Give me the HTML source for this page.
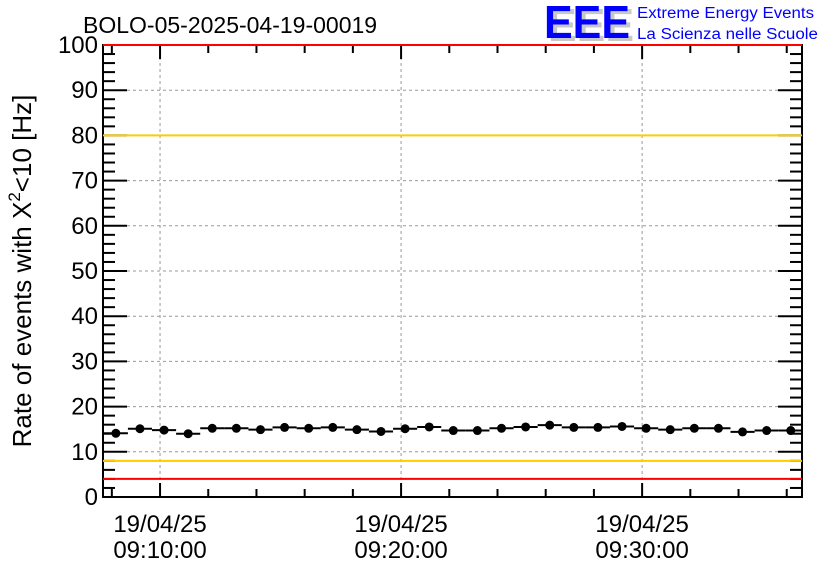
<!DOCTYPE html>
<html><head><meta charset="utf-8"><style>
html,body{margin:0;padding:0;background:#fff;}
svg{display:block;font-family:"Liberation Sans",sans-serif;}
</style></head><body>
<svg id="chart" width="836" height="572" viewBox="0 0 836 572" xmlns="http://www.w3.org/2000/svg">
<rect width="836" height="572" fill="#fff"/>
<text x="83" y="33" font-size="23" fill="#000">BOLO-05-2025-04-19-00019</text>
<g>
<text x="548" y="41" font-size="46" font-weight="bold" fill="#c8c8c8" textLength="86" lengthAdjust="spacingAndGlyphs">EEE</text>
<text x="544" y="38" font-size="46" font-weight="bold" fill="#0000ff" textLength="86" lengthAdjust="spacingAndGlyphs">EEE</text>
<text x="637" y="18" font-size="15.5" fill="#0000ff" textLength="177" lengthAdjust="spacingAndGlyphs">Extreme Energy Events</text>
<text x="637" y="39" font-size="15.5" fill="#0000ff" textLength="181" lengthAdjust="spacingAndGlyphs">La Scienza nelle Scuole</text>
</g>
<g id="grid"></g>
<g id="marks"></g>
<g id="axes"></g>
<g id="lines"></g>
<text transform="translate(31,271) rotate(-90)" text-anchor="middle" font-size="26" fill="#000">Rate of events with X<tspan dy="-11" font-size="17">2</tspan><tspan dy="11">&lt;10 [Hz]</tspan></text>
</svg>
<script>
const times = [490,550,610,670,730,790,850,910,970,1030,1090,1150,1210,1270,1330,1390,1450,1510,1570,1630,1690,1750,1810,1870,1930,1990,2050,2110,2170];
const rates = [14.1,15.1,14.8,14.0,15.2,15.2,14.9,15.4,15.2,15.4,14.9,14.5,15.1,15.5,14.7,14.7,15.2,15.5,15.9,15.4,15.4,15.6,15.2,14.9,15.2,15.2,14.4,14.7,14.7];
const yTicks = [0,10,20,30,40,50,60,70,80,90,100];
const xMajor = [600,1200,1800];
const xLabels = ["09:10:00","09:20:00","09:30:00"];
const xDate = "19/04/25";
const yellowLevels = [8,80];
const redLevels = [4,100];
const binWidth = 60;

const X0=103,X1=802,Y0=497,Y1=45,TMIN=458,TMAX=2198;
const xs=t=>X0+(t-TMIN)/(TMAX-TMIN)*(X1-X0);
const ys=v=>Y0-(v/100)*(Y0-Y1);
const NS="http://www.w3.org/2000/svg";
function mk(tag,attrs,parent){const e=document.createElementNS(NS,tag);for(const k in attrs)e.setAttribute(k,attrs[k]);document.getElementById(parent).appendChild(e);return e;}

yTicks.forEach(v=>{if(v>0&&v<100){const l=mk('line',{x1:X0,x2:X1,y1:ys(v),y2:ys(v),stroke:'#999','stroke-dasharray':'3,3','stroke-width':1},'grid');

}});
xMajor.forEach(t=>{const l=mk('line',{x1:xs(t),x2:xs(t),y1:Y1,y2:Y0,stroke:'#999','stroke-dasharray':'3,3','stroke-width':1},'grid');

});

yellowLevels.forEach(v=>{const l=mk('line',{x1:X0,x2:X1,y1:ys(v),y2:ys(v),stroke:'#ffcc00','stroke-width':2},'lines');

});
redLevels.forEach(v=>{const l=mk('line',{x1:X0,x2:X1,y1:ys(v),y2:ys(v),stroke:'#ff0000','stroke-width':2},'lines');

});

times.forEach((t,i)=>{
const b=mk('line',{x1:xs(t-binWidth/2),x2:xs(t+binWidth/2),y1:ys(rates[i]),y2:ys(rates[i]),stroke:'#000','stroke-width':2},'marks');


const c=mk('circle',{cx:xs(t),cy:ys(rates[i]),r:4.5,fill:'#000'},'marks');


});

const f=mk('rect',{x:X0,y:Y1,width:X1-X0,height:Y0-Y1,fill:'none',stroke:'#000','stroke-width':2},'axes');


for(let v=0;v<=100;v+=2){const L=(v%10===0)?24:12;
mk('line',{x1:X0,x2:X0+L,y1:ys(v),y2:ys(v),stroke:'#000','stroke-width':2},'axes');
mk('line',{x1:X1-L,x2:X1,y1:ys(v),y2:ys(v),stroke:'#000','stroke-width':2},'axes');}
yTicks.forEach(v=>{const t=mk('text',{x:X0-5,y:ys(v)+8,'text-anchor':'end','font-size':24},'axes');t.textContent=v;

});
for(let t=480;t<=TMAX;t+=120){const maj=xMajor.includes(t);const L=maj?14:8;
mk('line',{x1:xs(t),x2:xs(t),y1:Y0,y2:Y0-L,stroke:'#000','stroke-width':2},'axes');
mk('line',{x1:xs(t),x2:xs(t),y1:Y1,y2:Y1+L,stroke:'#000','stroke-width':2},'axes');}
xMajor.forEach((t,i)=>{
const a=mk('text',{x:xs(t),y:532,'text-anchor':'middle','font-size':24},'axes');a.textContent=xDate;


const b=mk('text',{x:xs(t),y:558,'text-anchor':'middle','font-size':24},'axes');b.textContent=xLabels[i];

});
</script>
</body></html>
